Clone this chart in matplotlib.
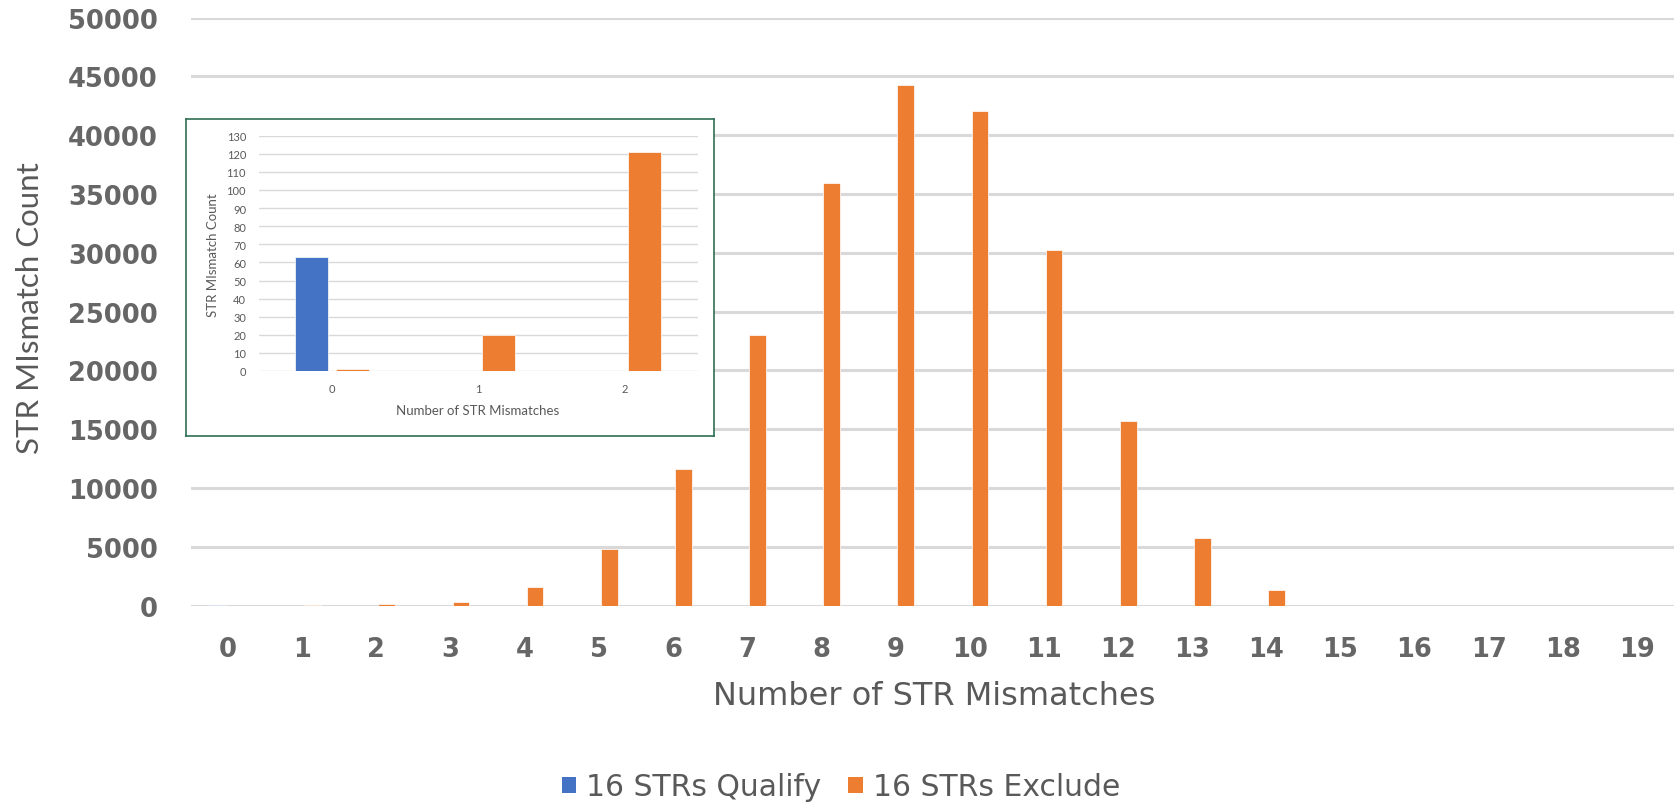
import matplotlib
matplotlib.use("Agg")
import matplotlib.pyplot as plt
from matplotlib.patches import Patch
import numpy as np

# ---- data ----
mismatches = list(range(20))
qualify = [63, 0, 0, 0, 0, 0, 0, 0, 0, 0, 0, 0, 0, 0, 0, 0, 0, 0, 0, 0]
exclude = [1, 20, 121, 310, 1570, 4830, 11580, 23000, 35930, 44270,
           42090, 30200, 15700, 5750, 1350, 0, 0, 0, 0, 0]

inset_categories = [0, 1, 2]
inset_qualify = [63, 0, 0]
inset_exclude = [1, 20, 121]

main_yticks = list(range(0, 50001, 5000))
inset_yticks = list(range(0, 131, 10))

series_names = ["16 STRs Qualify", "16 STRs Exclude"]
x_title = "Number of STR Mismatches"
y_title = "STR MIsmatch Count"

# ---- style ----
BLUE = "#4472C4"
ORANGE = "#ED7D31"
GRID = "#D9D9D9"
TEXT = "#595959"
BORDER = "#2F6E54"
W, H = 1681, 803
DPI = 100
bar_w = 0.225
off = 0.14

fig = plt.figure(figsize=(W / DPI, H / DPI), dpi=DPI)

def fx(px):
    return px / W

def fy(py):
    return (H - py) / H

# main axes
ax = fig.add_axes([fx(191), fy(606.7), fx(1674 - 191), (606.7 - 18.6) / H])
x = np.arange(len(mismatches))
ax.bar(x - off, qualify, width=bar_w, color=BLUE, edgecolor="white", linewidth=0.5, zorder=3)
ax.bar(x + off, exclude, width=bar_w, color=ORANGE, edgecolor="white", linewidth=0.5, zorder=3)
ax.set_xlim(-0.5, len(mismatches) - 0.5)
ax.set_ylim(0, 50000)
ax.set_yticks(main_yticks)
ax.set_xticks(x)
ax.set_xticklabels([str(m) for m in mismatches])
ax.yaxis.grid(True, color=GRID, linewidth=2.2, zorder=0)
ax.set_axisbelow(True)
for s in ax.spines.values():
    s.set_visible(False)
ax.tick_params(axis="both", length=0, colors=TEXT, labelsize=18.5)
ax.tick_params(axis="y", pad=24)
ax.tick_params(axis="x", pad=22)
for lab in ax.get_xticklabels() + ax.get_yticklabels():
    lab.set_fontweight("bold")
    lab.set_fontfamily("DejaVu Sans")
    lab.set_color("#666666")

fig.text(fx(934), fy(697), x_title, ha="center", va="center",
         fontsize=23, color=TEXT, family="DejaVu Sans")
fig.text(fx(30), fy(308), y_title, ha="center", va="center", rotation=90,
         fontsize=22.5, color=TEXT, family="Lato")

# legend
handles = [Patch(facecolor=BLUE, edgecolor="none"), Patch(facecolor=ORANGE, edgecolor="none")]
fig.legend(handles, series_names, loc="center", bbox_to_anchor=(fx(841), fy(788)),
           ncol=2, frameon=False, prop={"family": "DejaVu Sans", "size": 21.5},
           labelcolor=TEXT, handlelength=0.48, handleheight=0.48,
           handletextpad=0.35, columnspacing=0.9)

# inset frame
box = fig.add_axes([fx(185.9), fy(437.3), fx(713.7 - 185.9), (437.3 - 120) / H])
box.set_xticks([])
box.set_yticks([])
box.set_facecolor("white")
for s in box.spines.values():
    s.set_color(BORDER)
    s.set_linewidth(1.2)

# inset chart
ins = fig.add_axes([fx(258.5), fy(372), fx(697.6 - 258.5), (372 - 136.7) / H])
ins.patch.set_alpha(0)
xi = np.arange(len(inset_categories))
ins.bar(xi - off, inset_qualify, width=bar_w, color=BLUE, edgecolor="white", linewidth=0.5, zorder=3)
ins.bar(xi + off, inset_exclude, width=bar_w, color=ORANGE, edgecolor="white", linewidth=0.5, zorder=3)
ins.set_xlim(-0.5, len(inset_categories) - 0.5)
ins.set_ylim(0, 130)
ins.set_yticks(inset_yticks)
ins.set_xticks(xi)
ins.set_xticklabels([str(c) for c in inset_categories])
ins.yaxis.grid(True, color=GRID, linewidth=1.0, zorder=0)
ins.set_axisbelow(True)
for s in ins.spines.values():
    s.set_visible(False)
ins.tick_params(axis="both", length=0, colors=TEXT, labelsize=8, pad=9)
for lab in ins.get_xticklabels() + ins.get_yticklabels():
    lab.set_fontfamily("Lato")

fig.text(fx(478), fy(411), x_title, ha="center", va="center",
         fontsize=9.5, color=TEXT, family="Lato")
fig.text(fx(213.4), fy(254.7), y_title, ha="center", va="center", rotation=90,
         fontsize=9.5, color=TEXT, family="Lato")

fig.savefig("out.png", dpi=DPI, facecolor="white")
